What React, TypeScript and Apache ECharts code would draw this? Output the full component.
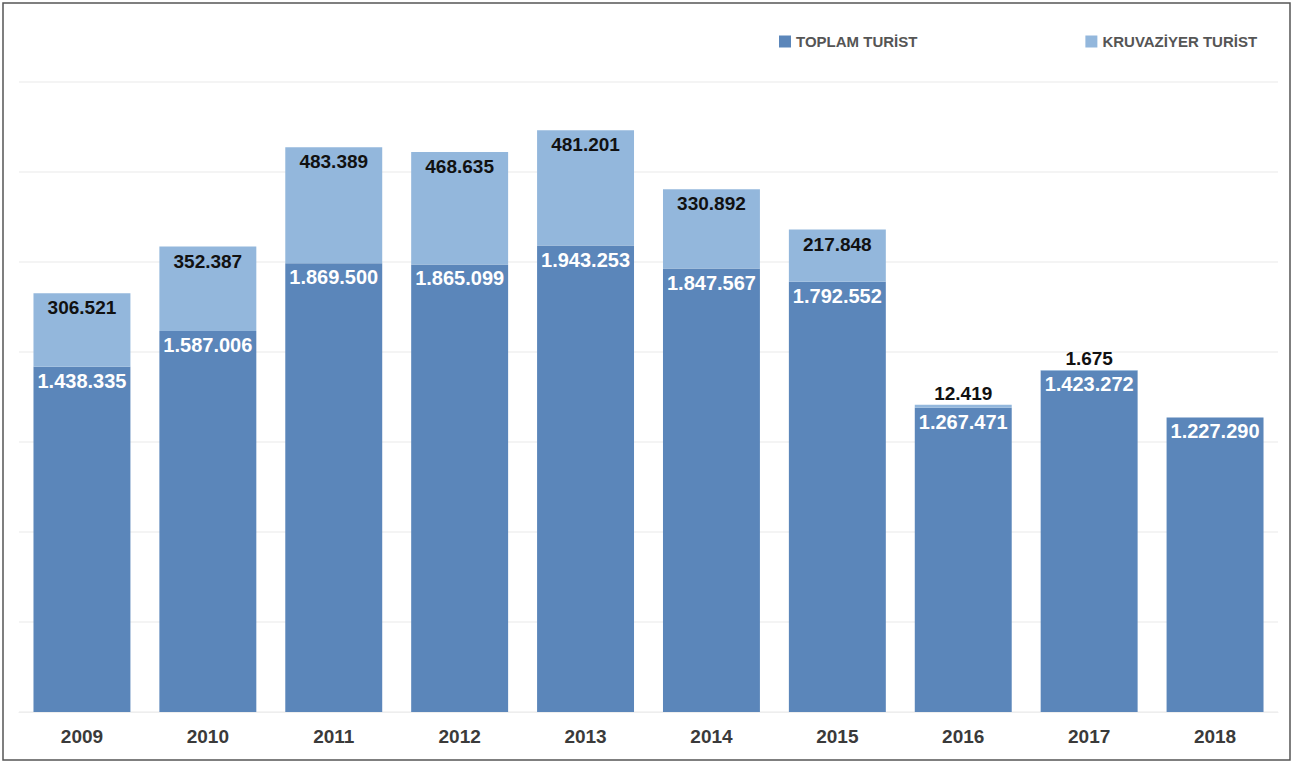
import React, { useEffect, useRef } from "react";
import * as echarts from "echarts";

const years = ["2009", "2010", "2011", "2012", "2013", "2014", "2015", "2016", "2017", "2018"];
const toplamTurist = [1438335, 1587006, 1869500, 1865099, 1943253, 1847567, 1792552, 1267471, 1423272, 1227290];
const kruvaziyerTurist = [306521, 352387, 483389, 468635, 481201, 330892, 217848, 12419, 1675, null];
const labelAboveYears = ["2016", "2017"];

const fmt = (v: number) => String(v).replace(/\B(?=(\d{3})+(?!\d))/g, ".");

const DARK = "#5b86ba";
const LIGHT = "#93b7dc";
const FONT = "'Liberation Sans', Arial, sans-serif";

export default function App() {
  const ref = useRef<HTMLDivElement>(null);
  useEffect(() => {
    if (!ref.current) return;
    const chart = echarts.init(ref.current, undefined, { renderer: "svg" });
    chart.setOption({
      animation: false,
      backgroundColor: "#ffffff",
      graphic: [
        {
          type: "rect",
          shape: { x: 3, y: 3, width: 1287, height: 757 },
          style: { fill: "none", stroke: "#555555", lineWidth: 1.5 },
          silent: true,
        },
      ],
      legend: {
        left: 774,
        top: 29,
        itemWidth: 12,
        itemHeight: 12,
        itemGap: 168,
        icon: "rect",
        textStyle: { color: "#555555", fontWeight: "bold", fontSize: 15, fontFamily: FONT },
        data: ["TOPLAM TURİST", "KRUVAZİYER TURİST"],
      },
      grid: { left: 19, right: 17, top: 82, bottom: 52 },
      xAxis: {
        type: "category",
        data: years,
        axisLine: { show: true, lineStyle: { color: "#eeeeee" } },
        axisTick: { show: false },
        axisLabel: {
          color: "#3a3a3a",
          fontWeight: "bold",
          fontSize: 19,
          fontFamily: FONT,
          margin: 15,
        },
      },
      yAxis: {
        type: "value",
        min: 0,
        max: 2625000,
        interval: 375000,
        axisLabel: { show: false },
        axisLine: { show: false },
        axisTick: { show: false },
        splitLine: { lineStyle: { color: "#f0f0f0", width: 1.5 } },
      },
      series: [
        {
          name: "TOPLAM TURİST",
          type: "bar",
          stack: "total",
          barCategoryGap: "23%",
          itemStyle: { color: DARK },
          data: toplamTurist,
          label: {
            show: true,
            position: "insideTop",
            distance: 4,
            color: "#ffffff",
            fontWeight: "bold",
            fontSize: 20,
            fontFamily: FONT,
            formatter: (p: any) => fmt(p.value),
          },
        },
        {
          name: "KRUVAZİYER TURİST",
          type: "bar",
          stack: "total",
          itemStyle: { color: LIGHT },
          data: kruvaziyerTurist.map((v, i) =>
            v == null
              ? { value: null, label: { show: false } }
              : labelAboveYears.includes(years[i])
              ? { value: v, label: { position: "top", distance: 2 } }
              : { value: v }
          ),
          label: {
            show: true,
            position: "insideTop",
            distance: 5,
            color: "#111111",
            fontWeight: "bold",
            fontSize: 19,
            fontFamily: FONT,
            formatter: (p: any) => (p.value == null ? "" : fmt(p.value)),
          },
        },
      ],
    });
    return () => chart.dispose();
  }, []);
  return (
    <div
      ref={ref}
      style={{ position: "fixed", left: 0, top: 0, width: 1295, height: 764 }}
    />
  );
}
